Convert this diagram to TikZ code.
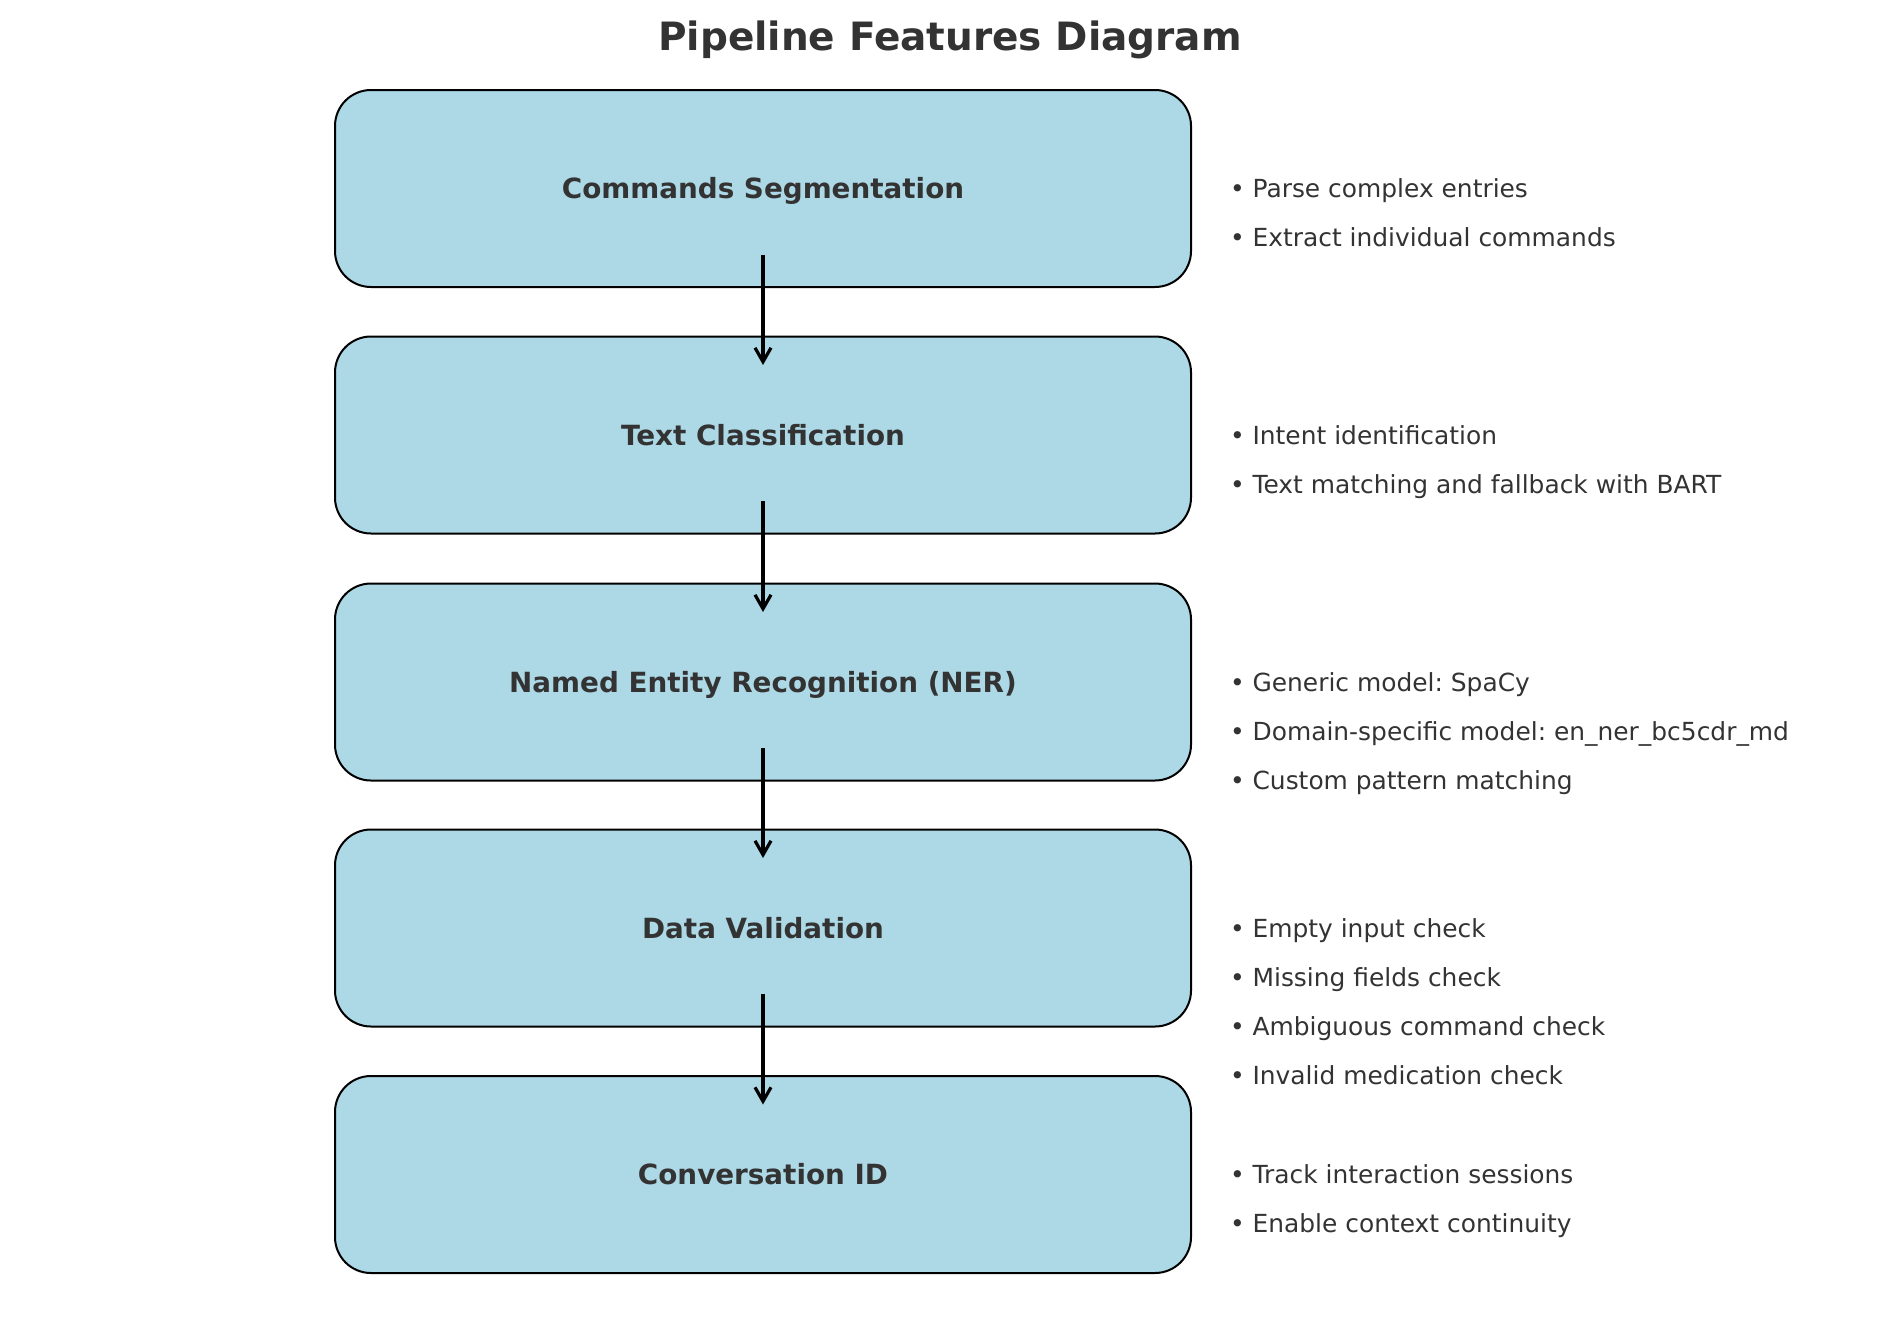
\documentclass[tikz,border=0pt]{standalone}
\usepackage{fontspec}
\setmainfont{DejaVu Sans}
\usepackage{tikz}
\usetikzlibrary{arrows.meta, positioning}
\definecolor{boxblue}{HTML}{ADD8E6}
\definecolor{textgrey}{HTML}{333333}
\frenchspacing

\begin{document}
\begin{tikzpicture}[
        x=0.5pt, y=-0.5pt,
        every node/.style={outer sep=0pt, text=textgrey, text depth=0pt},
        % cajas de las etapas: 856 x 197 px
        stage/.style={rectangle, rounded corners=18pt,
                      draw=black, line width=1pt, fill=boxblue,
                      minimum width=428pt, minimum height=98.5pt,
                      text height=10.1pt,
                      font=\fontsize{13.9}{17}\selectfont\bfseries},
        feat/.style={anchor=west, inner sep=0pt, text height=9.1pt,
                     font=\fontsize{12.45}{14}\selectfont},
        flow/.style={-{Straight Barb[length=7pt, width=8pt]},
                     draw=black, line width=1.6pt}
    ]
        \useasboundingbox (0,0) rectangle (1900,1318);

        \node[text height=14.2pt, font=\fontsize{19.5}{23}\selectfont\bfseries] (title) at (950,36) {Pipeline Features Diagram};

        \node[stage] (seg) at (763,188.5) {Commands Segmentation};
        \node[stage] (cls) at (763,435)   {Text Classification};
        \node[stage] (ner) at (763,682)   {Named Entity Recognition (NER)};
        \node[stage] (val) at (763,928)   {Data Validation};
        \node[stage] (cid) at (763,1174.5){Conversation ID};

        \draw[flow] ([yshift=-33pt]seg.center) -- ([yshift=35pt]cls.center);
        \draw[flow] ([yshift=-33pt]cls.center) -- ([yshift=35pt]ner.center);
        \draw[flow] ([yshift=-33pt]ner.center) -- ([yshift=35pt]val.center);
        \draw[flow] ([yshift=-33pt]val.center) -- ([yshift=35pt]cid.center);

        % listas de caracteristicas
        \node[feat] (seg1) at (1230,188.5) {• Parse complex entries};
        \node[feat] (seg2) at (1230,237.5) {• Extract individual commands};

        \node[feat] (cls1) at (1230,435) {• Intent identification};
        \node[feat] (cls2) at (1230,484) {• Text matching and fallback with BART};

        \node[feat] (ner1) at (1230,682) {• Generic model: SpaCy};
        \node[feat] (ner2) at (1230,731) {• Domain-specific model: en\_ner\_bc5cdr\_md};
        \node[feat] (ner3) at (1230,780) {• Custom pattern matching};

        \node[feat] (val1) at (1230,928)  {• Empty input check};
        \node[feat] (val2) at (1230,977)  {• Missing fields check};
        \node[feat] (val3) at (1230,1026) {• Ambiguous command check};
        \node[feat] (val4) at (1230,1075) {• Invalid medication check};

        \node[feat] (cid1) at (1230,1174.5) {• Track interaction sessions};
        \node[feat] (cid2) at (1230,1223.5) {• Enable context continuity};
    \end{tikzpicture}
\end{document}
